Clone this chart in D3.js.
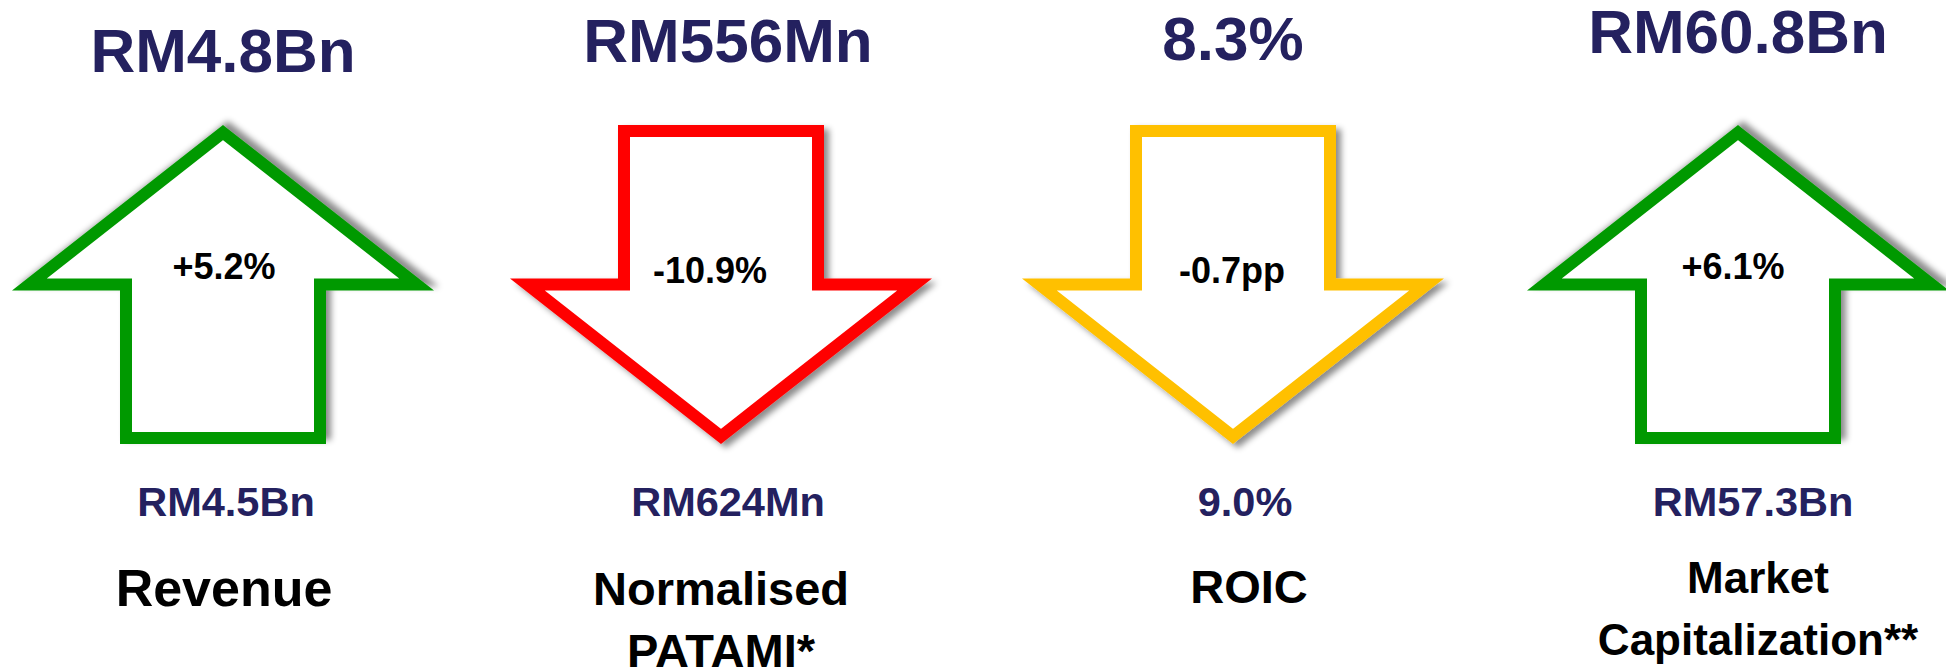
<!DOCTYPE html>
<html>
<head>
<meta charset="utf-8">
<script src="https://cdn.jsdelivr.net/npm/d3@7"></script>
<style>
  html, body { margin: 0; padding: 0; background: #fff; }
  svg { display: block; font-family: "Liberation Sans", Arial, sans-serif; font-weight: bold; }
</style>
</head>
<body>
<div class="container"></div>
<script>
// data
var categories = ['Revenue', 'Normalised PATAMI*', 'ROIC', 'Market Capitalization**'];
var labelLines = [['Revenue'], ['Normalised', 'PATAMI*'], ['ROIC'], ['Market', 'Capitalization**']];
var currentLabels = ['RM4.8Bn', 'RM556Mn', '8.3%', 'RM60.8Bn'];
var priorLabels = ['RM4.5Bn', 'RM624Mn', '9.0%', 'RM57.3Bn'];
var changeValues = [5.2, -10.9, -0.7, 6.1];
var changeLabels = ['+5.2%', '-10.9%', '-0.7pp', '+6.1%'];

// per-panel text placement, as on the slide
var layout = [
    { arrowDx: 0,  titleY: 72, changeDx: 1,   priorDx: 3,  labelDx: 1,  labelY: 606, labelSize: 52 },
    { arrowDx: -7, titleY: 62, changeDx: -18, priorDx: 0,  labelDx: -7, labelY: 605, labelSize: 47 },
    { arrowDx: 0,  titleY: 60, changeDx: -1,  priorDx: 12, labelDx: 16, labelY: 603, labelSize: 47 },
    { arrowDx: 0,  titleY: 53, changeDx: -5,  priorDx: 15, labelDx: 20, labelY: 593, labelSize: 44 }
];

var width = 1946, height = 670;
var navy = '#24215f';

var svg = d3.select('.container').append('svg')
    .attr('width', width).attr('height', height);

var defs = svg.append('defs');
var shadow = defs.append('filter').attr('id', 'shadow')
    .attr('x', '-20%').attr('y', '-20%').attr('width', '140%').attr('height', '140%');
shadow.append('feDropShadow')
    .attr('dx', 5).attr('dy', -4).attr('stdDeviation', 3)
    .attr('flood-color', '#000').attr('flood-opacity', 0.45);

var x = d3.scalePoint().domain(categories).range([223, 1738]);
// arrow runs from top to bottom of this band, shoulder at the middle
var y = d3.scaleLinear().domain([0, 1]).range([125, 444]);
var color = d3.scaleThreshold().domain([-5, 0]).range(['#ff0000', '#ffc000', '#009900']);

var stroke = 12, headHalf = 211, shaftHalf = 103;

// centre line of an up arrow, so a mitred stroke lands on the outer outline
function arrowPoints() {
    var h = stroke / 2,
        top = y(0), mid = y(0.5), bot = y(1),
        k = (mid + h - top) / headHalf,
        apex = top + h * Math.sqrt(1 + k * k),
        tip = (mid - apex) / k,
        sh = shaftHalf - h;
    return [[0, apex], [tip, mid], [sh, mid], [sh, bot - h],
            [-sh, bot - h], [-sh, mid], [-tip, mid]];
}

var line = d3.line().curve(d3.curveLinearClosed);
var cy = (y(0) + y(1)) / 2;

var panels = svg.selectAll('g.panel')
    .data(categories)
    .enter().append('g')
    .attr('class', 'panel')
    .attr('transform', function (d) { return 'translate(' + x(d) + ',0)'; });

panels.append('path')
    .attr('d', line(arrowPoints()))
    .attr('transform', function (d, i) {
        var t = 'translate(' + layout[i].arrowDx + ',0)';
        if (changeValues[i] < 0) t += ' translate(0,' + 2 * cy + ') scale(1,-1)';
        return t;
    })
    .attr('fill', '#fff')
    .attr('stroke', function (d, i) { return color(changeValues[i]); })
    .attr('stroke-width', stroke)
    .attr('stroke-linejoin', 'miter')
    .attr('stroke-miterlimit', 10)
    .attr('filter', 'url(#shadow)');

panels.append('text')
    .attr('text-anchor', 'middle')
    .attr('y', function (d, i) { return layout[i].titleY; })
    .attr('font-size', 62)
    .attr('fill', navy)
    .text(function (d, i) { return currentLabels[i]; });

panels.append('text')
    .attr('text-anchor', 'middle')
    .attr('x', function (d, i) { return layout[i].changeDx; })
    .attr('y', function (d, i) { return changeValues[i] < 0 ? 283 : 279; })
    .attr('font-size', 36)
    .attr('fill', '#000')
    .text(function (d, i) { return changeLabels[i]; });

panels.append('text')
    .attr('text-anchor', 'middle')
    .attr('x', function (d, i) { return layout[i].priorDx; })
    .attr('y', 516)
    .attr('font-size', 41.5)
    .attr('fill', navy)
    .text(function (d, i) { return priorLabels[i]; });

panels.append('text')
    .attr('text-anchor', 'middle')
    .attr('font-size', function (d, i) { return layout[i].labelSize; })
    .attr('fill', '#000')
    .each(function (d, i) {
        d3.select(this).selectAll('tspan')
            .data(labelLines[i])
            .enter().append('tspan')
            .attr('x', layout[i].labelDx)
            .attr('y', function (s, j) { return layout[i].labelY + j * 62; })
            .text(function (s) { return s; });
    });
</script>
</body>
</html>
